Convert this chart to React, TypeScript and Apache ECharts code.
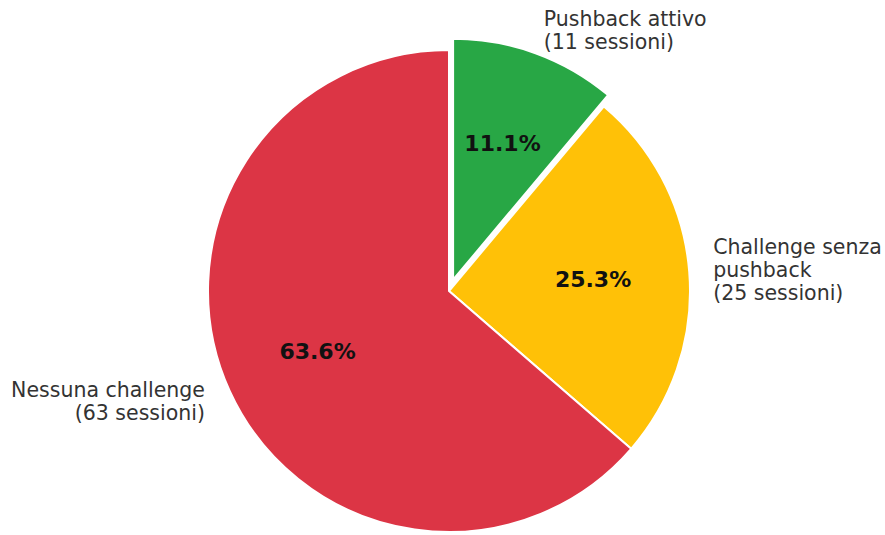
import React, { useEffect, useRef } from "react";
import * as echarts from "echarts";

const categories = ["Pushback attivo", "Challenge senza\npushback", "Nessuna challenge"];
const sessions = [11, 25, 63];
const colors = ["#28a745", "#ffc107", "#dc3545"];
const explodedIndex = 0;

export default function App() {
  const ref = useRef<HTMLDivElement>(null);
  useEffect(() => {
    if (!ref.current) return;
    const chart = echarts.init(ref.current, null, { renderer: "svg" });
    const total = sessions.reduce((a, b) => a + b, 0);
    const R = 241;
    const center = [449, 291];
    const mainData = categories.map((c, i) => ({
      name: c,
      value: sessions[i],
      selected: i === explodedIndex,
      itemStyle: { color: colors[i] },
      label: i === 2 ? { distanceToLabelLine: 3 } : {},
    }));
    const pctData = categories.map((c, i) => ({
      name: c + "_pct",
      value: sessions[i],
      selected: i === explodedIndex,
    }));
    chart.setOption({
      animation: false,
      series: [
        {
          type: "pie",
          center,
          radius: [0, R],
          startAngle: 90,
          clockwise: true,
          selectedMode: "single",
          selectedOffset: 12,
          avoidLabelOverlap: false,
          emphasis: { disabled: true },
          itemStyle: { borderColor: "#ffffff", borderWidth: 2 },
          label: {
            show: true,
            position: "outside",
            distanceToLabelLine: 0,
            fontFamily: "DejaVu Sans",
            fontSize: 20.5,
            lineHeight: 23,
            color: "#333333",
            formatter: (p: any) => `${p.name}\n(${p.value} sessioni)`,
          },
          labelLine: { show: false, length: 24, length2: 0 },
          data: mainData,
        },
        {
          type: "pie",
          center,
          radius: [0, 283],
          startAngle: 90,
          clockwise: true,
          selectedMode: "single",
          selectedOffset: 12,
          avoidLabelOverlap: false,
          silent: true,
          emphasis: { disabled: true },
          itemStyle: { color: "rgba(0,0,0,0)", borderWidth: 0 },
          label: {
            show: true,
            position: "inside",
            fontFamily: "DejaVu Sans",
            fontWeight: "bold",
            fontSize: 22,
            color: "#111111",
            formatter: (p: any) => `${((p.value / total) * 100).toFixed(1)}%`,
          },
          labelLine: { show: false },
          data: pctData,
        },
      ],
    });
    return () => chart.dispose();
  }, []);
  return (
    <div
      ref={ref}
      style={{ position: "fixed", left: 0, top: 0, width: 885, height: 535, background: "#ffffff" }}
    />
  );
}
